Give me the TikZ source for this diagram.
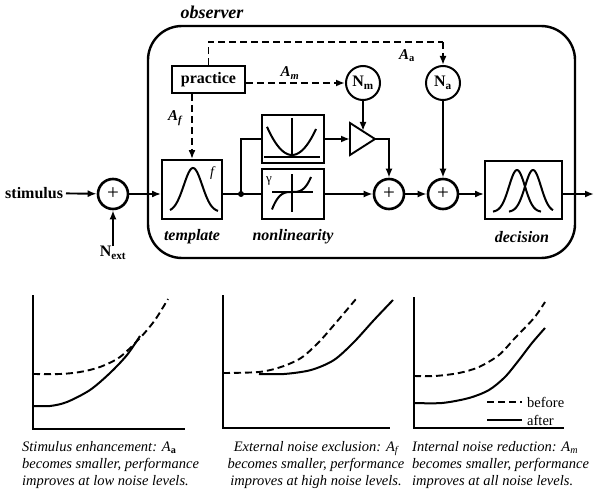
\documentclass[tikz,border=0pt]{standalone}
\usepackage{fontspec}
\setmainfont{Liberation Serif}
\usetikzlibrary{arrows.meta}
\begin{document}
\begin{tikzpicture}[x=1pt,y=-1pt,
  ln/.style={line width=1.9pt},
  arr/.style={ln,-{Latex[length=9pt,width=7pt]}},
  dsh/.style={line width=1.9pt,dash pattern=on 7pt off 4pt},
  blbl/.style={font=\fontsize{16}{19}\selectfont\bfseries,inner sep=0pt},
  bilbl/.style={font=\fontsize{16}{19}\selectfont\bfseries\itshape,inner sep=0pt},
  boxn/.style={draw,line width=1.9pt,inner sep=0pt},
  sumc/.style={circle,draw,line width=2.6pt,minimum size=30pt,inner sep=0pt,font=\fontsize{21}{21}\selectfont},
  ncirc/.style={circle,draw,line width=2pt,minimum size=34pt,inner sep=0pt,font=\fontsize{16}{16}\selectfont\bfseries},
  alb/.style={font=\fontsize{15}{15}\selectfont\bfseries\itshape,inner sep=0pt},
  captxt/.style={font=\fontsize{14.5}{17}\selectfont\itshape,inner sep=0pt},
  crv/.style={line width=2pt},
  axl/.style={line width=1.6pt}
]
\useasboundingbox (0,0) rectangle (603,495);

% observer frame
\node[draw,line width=2.4pt,rounded corners=34pt,minimum width=427pt,minimum height=232pt,inner sep=0pt] (obs) at (361.5,142) {};
\node[font=\fontsize{18}{20}\selectfont\bfseries\itshape,inner sep=0pt] (obstitle) at (212,12) {observer};

% blocks
\node[boxn,minimum width=73pt,minimum height=27pt,font=\fontsize{16}{19}\selectfont\bfseries] (practice) at (208.5,79.5) {practice};
\node[ncirc] (Nm) at (363,83) {N\textsubscript{m}};
\node[ncirc] (Na) at (443,83) {N\textsubscript{a}};

\node[boxn,minimum width=60pt,minimum height=59pt] (template) at (192,189.5) {};
\node[boxn,minimum width=62pt,minimum height=48pt] (nlup) at (293,139) {};
\node[boxn,minimum width=62pt,minimum height=50pt] (nllo) at (293,194) {};
\node[boxn,minimum width=77pt,minimum height=58pt] (decision) at (523.5,190) {};

\node[sumc] (sum1) at (113,194) {+};
\node[sumc] (sum2) at (389,194) {+};
\node[sumc] (sum3) at (443,194) {+};

\node[blbl,anchor=east,outer sep=3pt] (stim) at (66,193) {stimulus};
\node[blbl] (Next) at (113,253) {N\textsubscript{ext}};

\node[bilbl] (ltemplate) at (192,237) {template};
\node[bilbl] (lnonlin) at (293,237) {nonlinearity};
\node[bilbl] (ldecision) at (522,237) {decision};

\node[alb] (Am) at (290,73) {A\textsubscript{\itshape m}};
\node[alb] (Af) at (175,118) {A\textsubscript{\itshape f}};
\node[alb] (Aa) at (407,56) {A\textsubscript{\upshape a}};

% template curve
\draw[crv] plot[domain=-23:25,samples=60,smooth] ({193+\x},{212-44*exp(-\x*\x/170)});
\node[font=\fontsize{14}{14}\selectfont\itshape,inner sep=0pt] (tf) at (212,173) {f};

% upper nonlinearity (square)
\draw[line width=1.4pt] (264,157) -- (320,157);
\draw[line width=1.4pt] (292,118) -- (292,157);
\draw[crv] plot[domain=-25:24,samples=40,smooth] ({292+\x},{155-26*(\x/24)*(\x/24)});

% lower nonlinearity (gamma)
\draw[line width=1.4pt] (272,192) -- (313,192);
\draw[line width=1.4pt] (292,174) -- (292,212);
\draw[crv] plot[domain=-20:19,samples=40,smooth] ({292+\x},{192-15*(\x/19)*(\x/19)*(\x/19)});
\node[font=\fontsize{13}{13}\selectfont,inner sep=0pt] (gam) at (269,181) {γ};

% decision curves
\draw[crv] plot[domain=-24:24,samples=50,smooth] ({517+\x},{212-42*exp(-\x*\x/128)});
\draw[crv] plot[domain=-24:20,samples=50,smooth] ({533+\x},{212-42*exp(-\x*\x/128)});

% amplifier
\coordinate (ampin) at (350,139);
\coordinate (amptop) at (363,131);
\coordinate (ampout) at (375,139);
\draw[ln,line join=miter] (350,123) -- (ampout) -- (350,155) -- cycle;

% junction
\coordinate (junc) at (241,194);
\fill (junc) circle (3pt);

% connectors
\draw[arr] (stim) -- (sum1);
\draw[arr] (Next) -- (sum1);
\draw[arr] (sum1) -- (sum1 -| template.west);
\draw[ln] (template.east |- junc) -- (junc);
\draw[ln] (junc) -- (junc -| nllo.west);
\draw[ln] (junc) |- (nlup.west);
\draw[arr] (nlup.east) -- (ampin);
\draw[arr] (Nm) -- (amptop);
\draw[arr] (ampout) -| (sum2);
\draw[arr] (nllo.east |- sum2) -- (sum2);
\draw[arr] (sum2) -- (sum3);
\draw[arr] (Na) -- (sum3);
\draw[arr] (sum3) -- (sum3 -| decision.west);
\coordinate (outend) at (594,194);
\draw[arr] (decision.east |- sum3) -- (outend);

% dashed practice connectors
\coordinate (dtop) at (443,42);
\draw[dsh] (practice.north) |- (dtop);
\draw[dsh,-{Latex[length=9pt,width=7pt]}] (dtop) -- (Na.north);
\draw[dsh,-{Latex[length=9pt,width=7pt]}] (practice.east |- Nm) -- (Nm);
\draw[dsh,-{Latex[length=9pt,width=7pt]}] (practice.south -| template.north) -- (template.north);

% ---- plot 1
\draw[axl] (33,295) -- (33,429) -- (185,429);
\draw[crv,dsh] plot[smooth] coordinates {(33,374) (60,374) (80,372) (100,367) (120,357) (140,338) (155,320) (168,299)};
\draw[crv] plot[smooth] coordinates {(33,406) (50,406) (67,402) (90,390) (110,373) (127,355) (140,336)};
\node[captxt,anchor=west,align=left] (cap1) at (22,465) {Stimulus enhancement: A\textsubscript{\upshape\bfseries a}\\becomes smaller, performance\\improves at low noise levels.};

% ---- plot 2
\draw[axl] (223,295) -- (223,428) -- (390,428);
\draw[crv,dsh] plot[smooth] coordinates {(223,373) (259,372) (281,367) (301,358) (318,343) (334,325) (356,299)};
\draw[crv] plot[smooth] coordinates {(259,374) (284,374) (311,370) (334,360) (354,342) (374,320) (393,300)};
\node[captxt,align=center] (cap2) at (316,465) {External noise exclusion: A\textsubscript{f}\\becomes smaller, performance\\improves at high noise levels.};

% ---- plot 3
\draw[axl] (414,297) -- (414,428) -- (564,428);
\draw[crv,dsh] plot[smooth] coordinates {(414,376) (435,376) (459,373) (479,367) (499,355) (515,338) (534,318) (545,302)};
\draw[crv] plot[smooth] coordinates {(414,403) (442,403) (469,398) (489,390) (505,377) (519,360) (532,343) (545,328)};
\coordinate (lg1a) at (487,402);
\coordinate (lg1b) at (522,402);
\coordinate (lg2a) at (487,420);
\coordinate (lg2b) at (522,420);
\draw[crv,dsh] (lg1a) -- (lg1b);
\draw[crv] (lg2a) -- (lg2b);
\node[font=\fontsize{14.5}{17}\selectfont,anchor=west,inner sep=0pt] (before) at (527,402) {before};
\node[font=\fontsize{14.5}{17}\selectfont,anchor=west,inner sep=0pt] (after) at (527,420) {after};
\node[captxt,anchor=west,align=left] (cap3) at (412,465) {Internal noise reduction: A\textsubscript{m}\\becomes smaller, performance\\improves at all noise levels.};
\end{tikzpicture}
\end{document}
